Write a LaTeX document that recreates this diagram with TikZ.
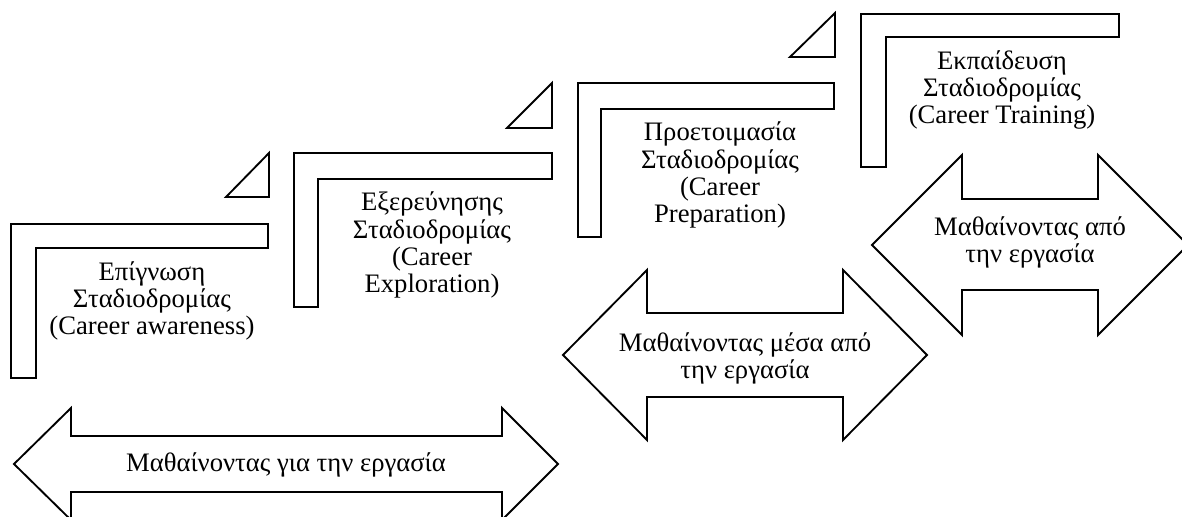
\documentclass[tikz,border=0pt]{standalone}
\usepackage{fontspec}
\setmainfont{Liberation Serif}
\usepackage{tikz}

\tikzset{
  outline/.style={draw=black,line width=1.4pt,line join=miter},
  stagetext/.style={align=center,inner sep=0pt,font=\fontsize{20}{20.3}\selectfont}
}

\begin{document}
\begin{tikzpicture}[x=0.75pt,y=-0.75pt]
  \clip (0,0) rectangle (1182,517);
  % stage brackets
  \draw[outline] (11,224) -- (268,224) -- (268,248) -- (36,248) -- (36,378) -- (11,378) -- cycle;
  \draw[outline] (294,153) -- (552,153) -- (552,179) -- (318,179) -- (318,307) -- (294,307) -- cycle;
  \draw[outline] (578,83) -- (834,83) -- (834,109) -- (601,109) -- (601,237) -- (578,237) -- cycle;
  \draw[outline] (861,14) -- (1119,14) -- (1119,37) -- (886,37) -- (886,167) -- (861,167) -- cycle;
  % small steps
  \draw[outline] (226,197) -- (269,197) -- (269,153) -- cycle;
  \draw[outline] (507,128) -- (552,128) -- (552,83) -- cycle;
  \draw[outline] (790,57) -- (835,57) -- (835,13) -- cycle;
  % double arrows
  \draw[outline] (14,464) -- (71,408) -- (71,436) -- (502,436) -- (502,408) -- (558,464)
    -- (502,520) -- (502,492) -- (71,492) -- (71,520) -- cycle;
  \draw[outline] (563,355) -- (647,270) -- (647,313) -- (843,313) -- (843,270) -- (927,355)
    -- (843,440) -- (843,397) -- (647,397) -- (647,440) -- cycle;
  \draw[outline] (872,245) -- (962,155) -- (962,199) -- (1098,199) -- (1098,155) -- (1188,245)
    -- (1098,335) -- (1098,290) -- (962,290) -- (962,335) -- cycle;
  % texts
  \node[stagetext] (aware) at (152,301) {Επίγνωση\\Σταδιοδρομίας\\(Career awareness)};
  \node[stagetext] (explore) at (432,245) {Εξερεύνησης\\Σταδιοδρομίας\\(Career\\Exploration)};
  \node[stagetext] (prep) at (720,175) {Προετοιμασία\\Σταδιοδρομίας\\(Career\\Preparation)};
  \node[stagetext] (train) at (1002,90) {Εκπαίδευση\\Σταδιοδρομίας\\(Career Training)};
  \node[stagetext] (forwork) at (286,465) {Μαθαίνοντας για την εργασία};
  \node[stagetext] (throughwork) at (745,358) {Μαθαίνοντας μέσα από\\την εργασία};
  \node[stagetext] (fromwork) at (1030,242) {Μαθαίνοντας από\\την εργασία};
\end{tikzpicture}
\end{document}
